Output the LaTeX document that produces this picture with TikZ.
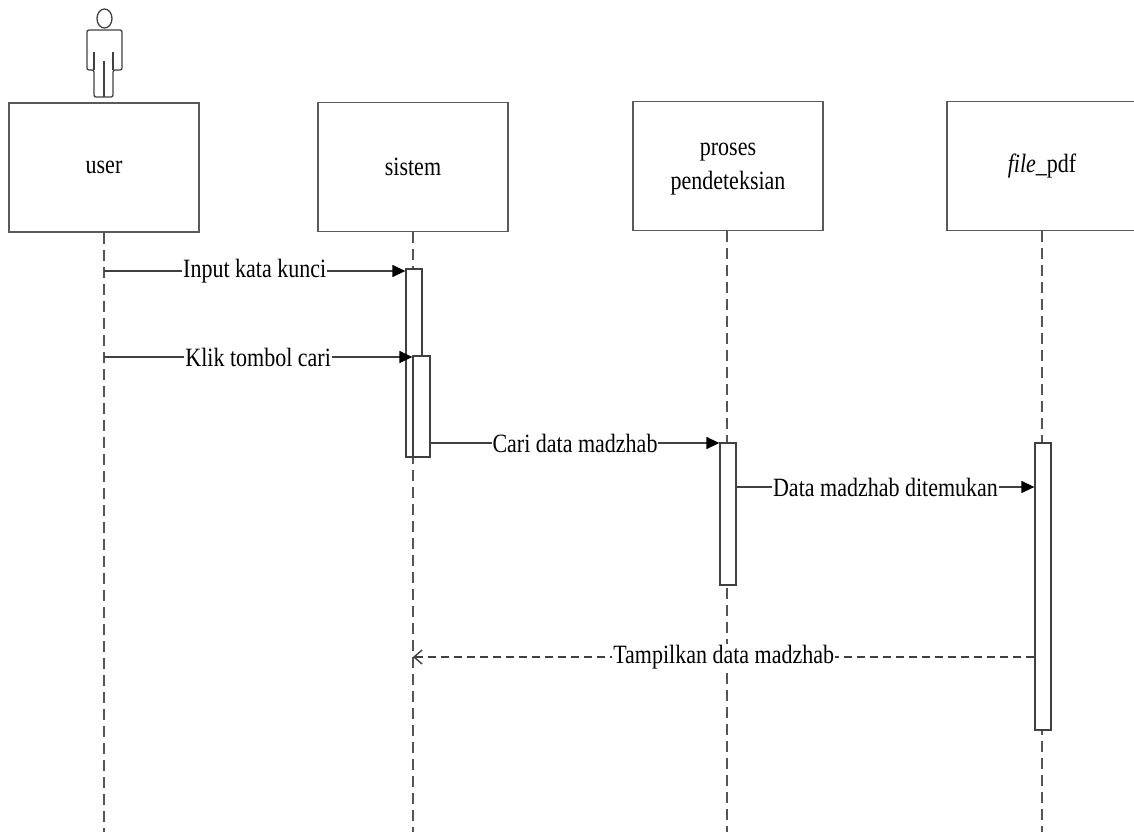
\documentclass[tikz,border=0pt]{standalone}
\usepackage{fontspec}
\usepackage{graphicx}
\setmainfont{Liberation Serif}
\usetikzlibrary{arrows.meta}
\definecolor{boxgray}{HTML}{5A5A5A}
\definecolor{lifegray}{HTML}{555555}
\definecolor{msggray}{HTML}{404040}
\newcommand\lblfont{\fontsize{22}{28}\selectfont}
\newcommand\tallt[1]{\scalebox{1}[1.2]{#1}}
\begin{document}
\begin{tikzpicture}[x=1pt,y=-1pt,
  objbox/.style={draw=boxgray, line width=1.6pt, fill=white, minimum width=190pt, minimum height=129pt, inner sep=0pt, font=\lblfont, align=center},
  actbar/.style={draw=msggray, line width=1.3pt, fill=white, minimum width=16pt, inner sep=0pt},
  lifeline/.style={draw=lifegray, line width=1.3pt, dash pattern=on 11pt off 6pt},
  msg/.style={draw=msggray, line width=1.4pt, -{Triangle[length=13pt,width=12pt,color=black]}},
  retmsg/.style={draw=msggray, line width=1.4pt, dash pattern=on 8pt off 5pt, -{Straight Barb[length=8pt,width=14pt]}},
  msglbl/.style={midway, fill=white, inner sep=1pt, font=\lblfont},
  actorline/.style={draw=msggray, line width=1.3pt}
]
\useasboundingbox (0,0) rectangle (1134,832);
\begin{scope}
\clip (0,0) rectangle (1134,832);
% actor
\draw[actorline] (104.5,18.5) ellipse (7.5 and 9.5);
\draw[actorline, rounded corners=2pt] (94,97) -- (94,70) -- (87,70) -- (87,30) -- (122,30) -- (122,70) -- (113,70) -- (113,97) -- cycle;
\draw[actorline] (94,52) -- (94,70) (113,52) -- (113,70) (104,61) -- (104,97);

% object boxes
\node[objbox] (user) at (104,167.5) {\tallt{user}};
\node[objbox] (sistem) at (413,167) {\tallt{sistem}};
\node[objbox] (proses) at (728,166) {\tallt{\begin{tabular}{@{}c@{}}proses\\pendeteksian\end{tabular}}};
\node[objbox, minimum width=200pt] (file) at (1047,166) {};
\node[font=\lblfont] (filelbl) at (1042,166) {\tallt{\textit{file}\_pdf}};

% lifelines
\coordinate (ue) at (104,832);
\coordinate (se) at (413,832);
\coordinate (pe) at (727,832);
\coordinate (fe) at (1042,832);
\draw[lifeline] (user.south) -- (ue);
\draw[lifeline] (sistem.south) -- (se);
\draw[lifeline] ([xshift=-1pt]proses.south) -- (pe);
\draw[lifeline] (fe |- file.south) -- (fe);

% activation bars
\node[actbar, minimum height=188pt] (bar1) at (414,363) {};
\node[actbar, minimum width=17pt, minimum height=101pt] (bar2) at (421.5,406.5) {};
\node[actbar, minimum height=142pt] (pbar) at (728,514) {};
\node[actbar, minimum height=287pt] (fbar) at (1043,586.5) {};

% messages
\coordinate (m1) at (104,271);
\coordinate (m2) at (104,357);
\coordinate (m3) at (0,443);
\coordinate (m4) at (0,487);
\coordinate (m5) at (413,657);
\draw[msg] (m1) -- node[msglbl] {\tallt{Input kata kunci}} (bar1.west |- m1);
\draw[msg] (m2) -- node[msglbl] {\tallt{Klik tombol cari}} (bar2.west |- m2);
\draw[msg] (bar2.east |- m3) -- node[msglbl] {\tallt{Cari data madzhab}} (pbar.west |- m3);
\draw[msg] (pbar.east |- m4) -- node[msglbl] {\tallt{Data madzhab ditemukan}} (fbar.west |- m4);
\draw[retmsg] (fbar.west |- m5) -- node[msglbl] {\tallt{Tampilkan data madzhab}} (m5);
\end{scope}
\end{tikzpicture}
\end{document}
